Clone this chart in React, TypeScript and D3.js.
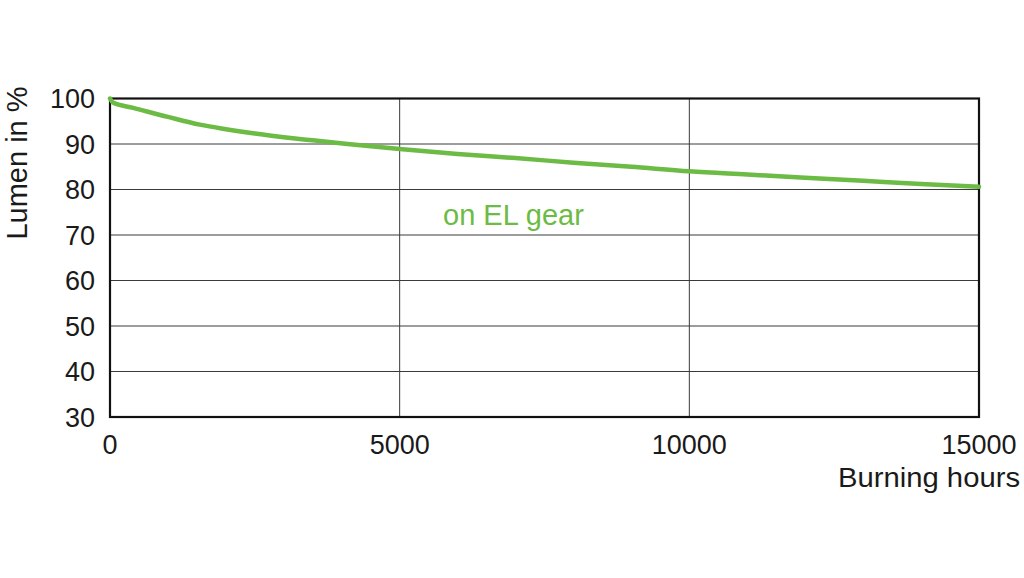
import * as d3 from "d3";
import React from "react";

// burning hours vs. lumen maintenance (%)
const hours = [0, 50, 400, 1000, 1550, 2000, 2500, 3000, 3500, 4100, 5000, 6000, 7000, 8000, 9000, 10000, 11000, 12000, 13000, 14000, 15000];
const lumen = [100, 99.1, 97.95, 95.95, 94.25, 93.25, 92.3, 91.5, 90.8, 90.0, 88.9, 87.8, 86.9, 85.9, 85.0, 84.0, 83.3, 82.6, 81.9, 81.2, 80.6];
const yTicks = [30, 40, 50, 60, 70, 80, 90, 100];
const xTicks = [0, 5000, 10000, 15000];
const seriesLabel = "on EL gear";

const width = 1024;
const height = 578;
const margin = { top: 98.5, right: 45, bottom: 161, left: 110 };
const green = "#6cbb45";
const font = "'Liberation Sans', Arial, sans-serif";

export default function App() {
  const x = d3.scaleLinear().domain([0, 15000]).range([margin.left, width - margin.right]);
  const y = d3.scaleLinear().domain([30, 100]).range([height - margin.bottom, margin.top]);

  const line = d3
    .line<number>()
    .x((_, i) => x(hours[i]))
    .y((d) => y(d))
    .curve(d3.curveMonotoneX);

  return (
    <svg
      width={width}
      height={height}
      viewBox={`0 0 ${width} ${height}`}
      style={{ position: "absolute", left: 0, top: 0, background: "#fff" }}
      fontFamily={font}
    >
      {/* horizontal grid */}
      {yTicks.map((t) => (
        <line key={"h" + t} x1={x(0)} x2={x(15000)} y1={y(t)} y2={y(t)} stroke="#3a3a3a" strokeWidth={1} />
      ))}
      {/* vertical grid */}
      {xTicks.map((t) => (
        <line key={"v" + t} x1={x(t)} x2={x(t)} y1={y(30)} y2={y(100)} stroke="#3a3a3a" strokeWidth={1} />
      ))}
      {/* frame */}
      <rect
        x={x(0)}
        y={y(100)}
        width={x(15000) - x(0)}
        height={y(30) - y(100)}
        fill="none"
        stroke="#111"
        strokeWidth={2.2}
      />
      {/* y tick labels */}
      {yTicks.map((t) => (
        <text key={"yl" + t} x={95} y={y(t) + 9.5} textAnchor="end" fontSize={27} fill="#1a1a1a">
          {t}
        </text>
      ))}
      {/* x tick labels */}
      {xTicks.map((t) => (
        <text key={"xl" + t} x={x(t)} y={454} textAnchor="middle" fontSize={27} fill="#1a1a1a">
          {t}
        </text>
      ))}
      <text x={1020} y={487} textAnchor="end" fontSize={27} fill="#1a1a1a" textLength={182} lengthAdjust="spacingAndGlyphs">
        Burning hours
      </text>
      <text
        transform={`translate(27,${163}) rotate(-90)`}
        textAnchor="middle"
        fontSize={29}
        fill="#1a1a1a"
      >
        Lumen in %
      </text>
      {/* series */}
      <path d={line(lumen) ?? ""} fill="none" stroke={green} strokeWidth={4.5} strokeLinecap="round" />
      <text x={443} y={225} fontSize={29} fill={green}>
        {seriesLabel}
      </text>
    </svg>
  );
}
